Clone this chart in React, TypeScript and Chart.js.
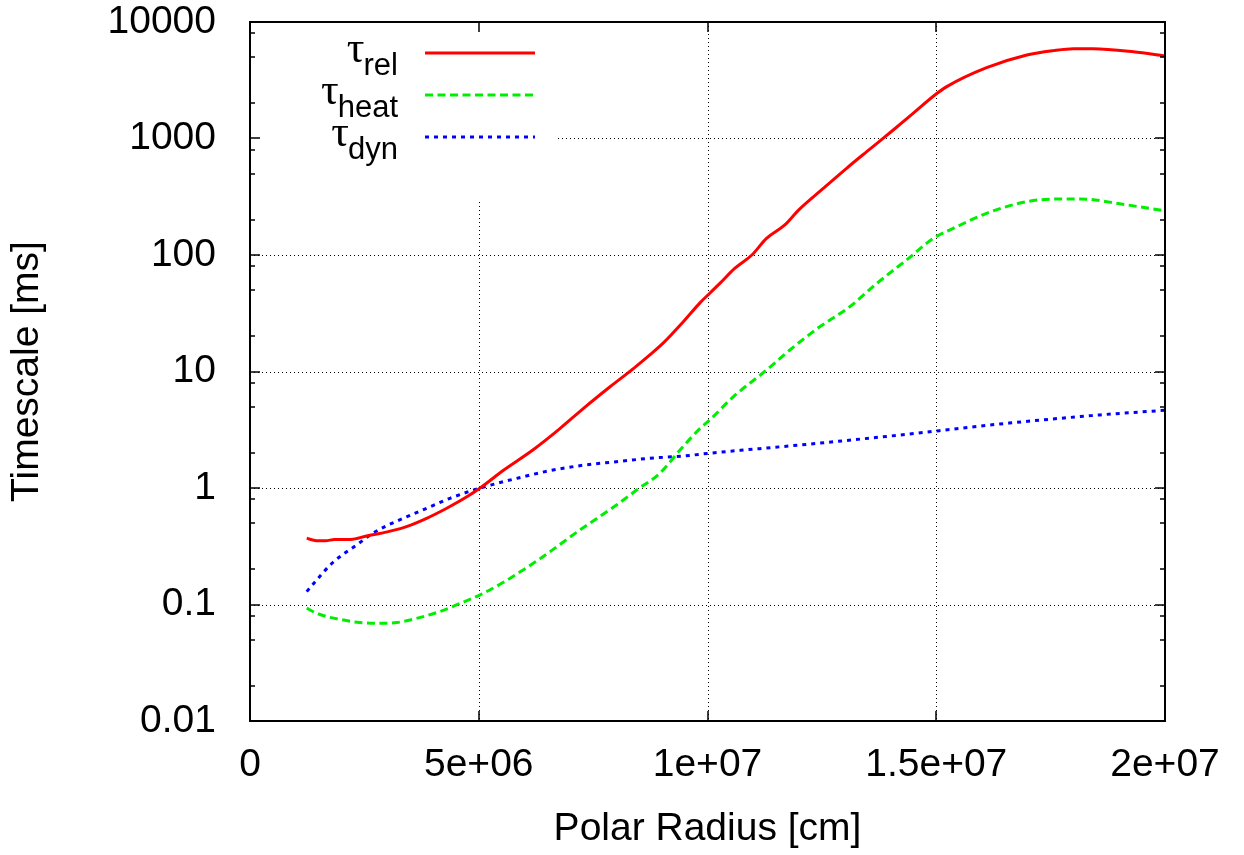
import React, { useEffect, useRef } from 'react';
import { Chart, registerables } from 'chart.js';

Chart.register(...registerables);

const FONT = '"Liberation Sans", Arial, Helvetica, sans-serif';
const SYMBOL_FONT = '"Liberation Serif", "Times New Roman", serif';

// Relaxation timescale
const relRadius = [
  1.24e6, 1.45e6, 1.65e6, 1.85e6, 2.2e6, 2.55e6, 3.0e6, 3.42e6, 3.86e6, 4.3e6,
  4.74e6, 5.03e6, 5.54e6, 6.19e6, 6.78e6, 7.29e6, 7.87e6, 8.38e6, 8.74e6, 9.03e6,
  9.47e6, 9.84e6, 1.005e7, 1.027e7, 1.06e7, 1.097e7, 1.129e7, 1.169e7, 1.199e7, 1.253e7,
  1.304e7, 1.348e7, 1.406e7, 1.45e7, 1.497e7, 1.523e7, 1.61e7, 1.698e7, 1.756e7, 1.8e7,
  1.843e7, 1.931e7, 2.0e7,
];
const relTime = [
  0.37, 0.353, 0.352, 0.362, 0.362, 0.387, 0.42, 0.466, 0.549, 0.67,
  0.84, 1.0, 1.42, 2.13, 3.25, 4.83, 7.4, 10.6, 13.9, 17.5,
  26.7, 39, 47, 57, 77, 100, 139, 181, 243, 373,
  555, 771, 1183, 1650, 2362, 2786, 4052, 5207, 5680, 5900,
  5900, 5555, 5110,
];

// Heating timescale
const heatRadius = [
  1.24e6, 1.46e6, 1.75e6, 2.04e6, 2.4e6, 2.84e6, 3.21e6, 3.64e6, 4.15e6, 4.59e6,
  5.03e6, 5.54e6, 5.97e6, 6.34e6, 7.21e6, 8.01e6, 8.45e6, 8.96e6, 9.4e6, 9.84e6,
  1.005e7, 1.057e7, 1.129e7, 1.18e7, 1.246e7, 1.311e7, 1.37e7, 1.435e7, 1.494e7, 1.545e7,
  1.61e7, 1.698e7, 1.77e7, 1.829e7, 1.894e7, 2.0e7,
];
const heatTime = [
  0.093, 0.084, 0.0776, 0.0736, 0.07, 0.069, 0.07, 0.076, 0.087, 0.102,
  0.121, 0.155, 0.198, 0.247, 0.436, 0.714, 0.96, 1.34, 2.12, 3.25,
  3.84, 6.1, 10.3, 15.3, 24.3, 36, 57, 90.6, 139, 175,
  228, 287, 303, 301, 278, 239,
];

// Dynamical timescale
const dynRadius = [
  1.24e6, 1.49e6, 1.75e6, 2.04e6, 2.33e6, 2.66e6, 2.99e6, 3.35e6, 3.86e6, 4.37e6,
  4.81e6, 5.03e6, 5.83e6, 6.56e6, 7.29e6, 8.01e6, 8.74e6, 9.47e6, 1.005e7, 1.202e7,
  1.421e7, 1.639e7, 1.858e7, 2.0e7,
];
const dynTime = [
  0.129, 0.168, 0.218, 0.271, 0.324, 0.403, 0.475, 0.549, 0.67, 0.815,
  0.94, 1.0, 1.21, 1.41, 1.57, 1.68, 1.8, 1.88, 1.99, 2.34,
  2.85, 3.54, 4.24, 4.65,
];

const xTickValues = [0, 5e6, 1e7, 1.5e7, 2e7];
const xTickLabels = ['0', '5e+06', '1e+07', '1.5e+07', '2e+07'];
const yTickValues = [0.01, 0.1, 1, 10, 100, 1000, 10000];
const yTickLabels = ['0.01', '0.1', '1', '10', '100', '1000', '10000'];
const yMinorFactors = [2, 5, 8];

const seriesSymbol = 'τ';
const seriesSubscripts = ['rel', 'heat', 'dyn'];
const xTitle = 'Polar Radius [cm]';
const yTitle = 'Timescale [ms]';

const toPoints = (xs: number[], ys: number[]) => xs.map((x, i) => ({ x, y: ys[i] }));

// Grid, border, inward tick marks and an opaque key box in the upper left
const framePlugin = {
  id: 'gnuplotFrame',
  beforeDatasetsDraw(chart: any) {
    const { ctx, chartArea: a, scales } = chart;
    const xs = scales.x;
    const ys = scales.y;
    ctx.save();
    ctx.strokeStyle = '#000';
    ctx.lineWidth = 1;
    ctx.setLineDash([1, 3]);
    ctx.beginPath();
    xTickValues.forEach((v) => {
      const px = Math.round(xs.getPixelForValue(v)) + 0.5;
      ctx.moveTo(px, a.top);
      ctx.lineTo(px, a.bottom);
    });
    yTickValues.forEach((v) => {
      const py = Math.round(ys.getPixelForValue(v)) + 0.5;
      ctx.moveTo(a.left, py);
      ctx.lineTo(a.right, py);
    });
    ctx.stroke();
    ctx.setLineDash([]);
    ctx.fillStyle = '#fff';
    ctx.fillRect(a.left, a.top, 307, 178);
    ctx.restore();
  },
  afterDatasetsDraw(chart: any) {
    const { ctx, chartArea: a, scales } = chart;
    const xs = scales.x;
    const ys = scales.y;
    ctx.save();
    ctx.strokeStyle = '#000';
    ctx.lineWidth = 1.5;
    ctx.beginPath();
    const major = 10;
    const minor = 5;
    xTickValues.forEach((v) => {
      const px = Math.round(xs.getPixelForValue(v));
      ctx.moveTo(px, a.bottom);
      ctx.lineTo(px, a.bottom - major);
      ctx.moveTo(px, a.top);
      ctx.lineTo(px, a.top + major);
    });
    yTickValues.forEach((v, i) => {
      const py = Math.round(ys.getPixelForValue(v));
      ctx.moveTo(a.left, py);
      ctx.lineTo(a.left + major, py);
      ctx.moveTo(a.right, py);
      ctx.lineTo(a.right - major, py);
      if (i < yTickValues.length - 1) {
        yMinorFactors.forEach((f) => {
          const pm = Math.round(ys.getPixelForValue(v * f));
          ctx.moveTo(a.left, pm);
          ctx.lineTo(a.left + minor, pm);
          ctx.moveTo(a.right, pm);
          ctx.lineTo(a.right - minor, pm);
        });
      }
    });
    ctx.stroke();
    ctx.lineWidth = 2;
    ctx.strokeRect(a.left, a.top, a.right - a.left, a.bottom - a.top);

    // key
    const textRight = a.left + 148;
    const sampleStart = a.left + 175;
    const sampleEnd = a.left + 285;
    chart.data.datasets.forEach((ds: any, i: number) => {
      const rowY = a.top + 31 + 42 * i;
      ctx.save();
      ctx.strokeStyle = ds.borderColor;
      ctx.lineWidth = ds.borderWidth;
      ctx.lineCap = 'butt';
      ctx.setLineDash(ds.borderDash || []);
      ctx.beginPath();
      ctx.moveTo(sampleStart, rowY);
      ctx.lineTo(sampleEnd, rowY);
      ctx.stroke();
      ctx.restore();

      ctx.fillStyle = '#000';
      ctx.textBaseline = 'alphabetic';
      ctx.textAlign = 'left';
      ctx.font = `31px ${FONT}`;
      const sub = seriesSubscripts[i];
      const subW = ctx.measureText(sub).width;
      ctx.fillText(sub, textRight - subW, rowY + 22);
      ctx.font = `44px ${SYMBOL_FONT}`;
      const tauW = ctx.measureText(seriesSymbol).width;
      ctx.fillText(seriesSymbol, textRight - subW - tauW + 1, rowY + 9);
    });
    ctx.restore();
  },
};

export default function App() {
  const canvasRef = useRef<HTMLCanvasElement>(null);

  useEffect(() => {
    const canvas = canvasRef.current;
    if (!canvas) return;
    const chart = new Chart(canvas, {
      type: 'line',
      data: {
        datasets: [
          {
            label: seriesSymbol + seriesSubscripts[0],
            data: toPoints(relRadius, relTime),
            borderColor: '#ff0000',
            borderWidth: 3,
            pointRadius: 0,
            fill: false,
            cubicInterpolationMode: 'monotone',
          },
          {
            label: seriesSymbol + seriesSubscripts[1],
            data: toPoints(heatRadius, heatTime),
            borderColor: '#00ee00',
            borderWidth: 3,
            borderDash: [8, 4.5],
            borderCapStyle: 'butt',
            pointRadius: 0,
            fill: false,
            cubicInterpolationMode: 'monotone',
          },
          {
            label: seriesSymbol + seriesSubscripts[2],
            data: toPoints(dynRadius, dynTime),
            borderColor: '#0000ff',
            borderWidth: 3,
            borderDash: [4, 5],
            borderCapStyle: 'butt',
            pointRadius: 0,
            fill: false,
            cubicInterpolationMode: 'monotone',
          },
        ],
      },
      options: {
        responsive: false,
        animation: false,
        devicePixelRatio: 1,
        events: [],
        layout: { padding: { top: 22, right: 79, left: 0, bottom: 0 } },
        plugins: { legend: { display: false }, tooltip: { enabled: false } },
        scales: {
          x: {
            type: 'linear',
            position: 'bottom',
            min: 0,
            max: 2e7,
            grid: { display: false },
            border: { display: false },
            afterBuildTicks: (s: any) => {
              s.ticks = xTickValues.map((v) => ({ value: v }));
            },
            afterFit: (s: any) => {
              s.height = 134;
              s.paddingLeft = 0;
              s.paddingRight = 0;
            },
            ticks: {
              autoSkip: false,
              maxRotation: 0,
              minRotation: 0,
              padding: 17,
              color: '#000',
              font: { family: FONT, size: 39, lineHeight: 1 },
              callback: (_v: any, i: number) => xTickLabels[i],
            },
            title: {
              display: true,
              text: xTitle,
              color: '#000',
              font: { family: FONT, size: 39, lineHeight: 1 },
              padding: { top: 0, bottom: 6 },
            },
          },
          y: {
            type: 'logarithmic',
            position: 'left',
            min: 0.01,
            max: 10000,
            grid: { display: false },
            border: { display: false },
            afterBuildTicks: (s: any) => {
              s.ticks = yTickValues.map((v) => ({ value: v }));
            },
            afterFit: (s: any) => {
              s.width = 250;
              s.paddingTop = 0;
              s.paddingBottom = 0;
            },
            ticks: {
              autoSkip: false,
              padding: 26,
              color: '#000',
              font: { family: FONT, size: 39, lineHeight: 1 },
              callback: (_v: any, i: number) => yTickLabels[i],
            },
            title: {
              display: true,
              text: yTitle,
              color: '#000',
              font: { family: FONT, size: 39, lineHeight: 1 },
              padding: { top: 8, bottom: 0 },
            },
          },
        },
      },
      plugins: [framePlugin],
    } as any);
    return () => chart.destroy();
  }, []);

  return (
    <div style={{ position: 'fixed', left: 0, top: 0, width: 1244, height: 855, background: '#fff' }}>
      <canvas ref={canvasRef} width={1244} height={855} style={{ display: 'block', width: 1244, height: 855 }} />
    </div>
  );
}
